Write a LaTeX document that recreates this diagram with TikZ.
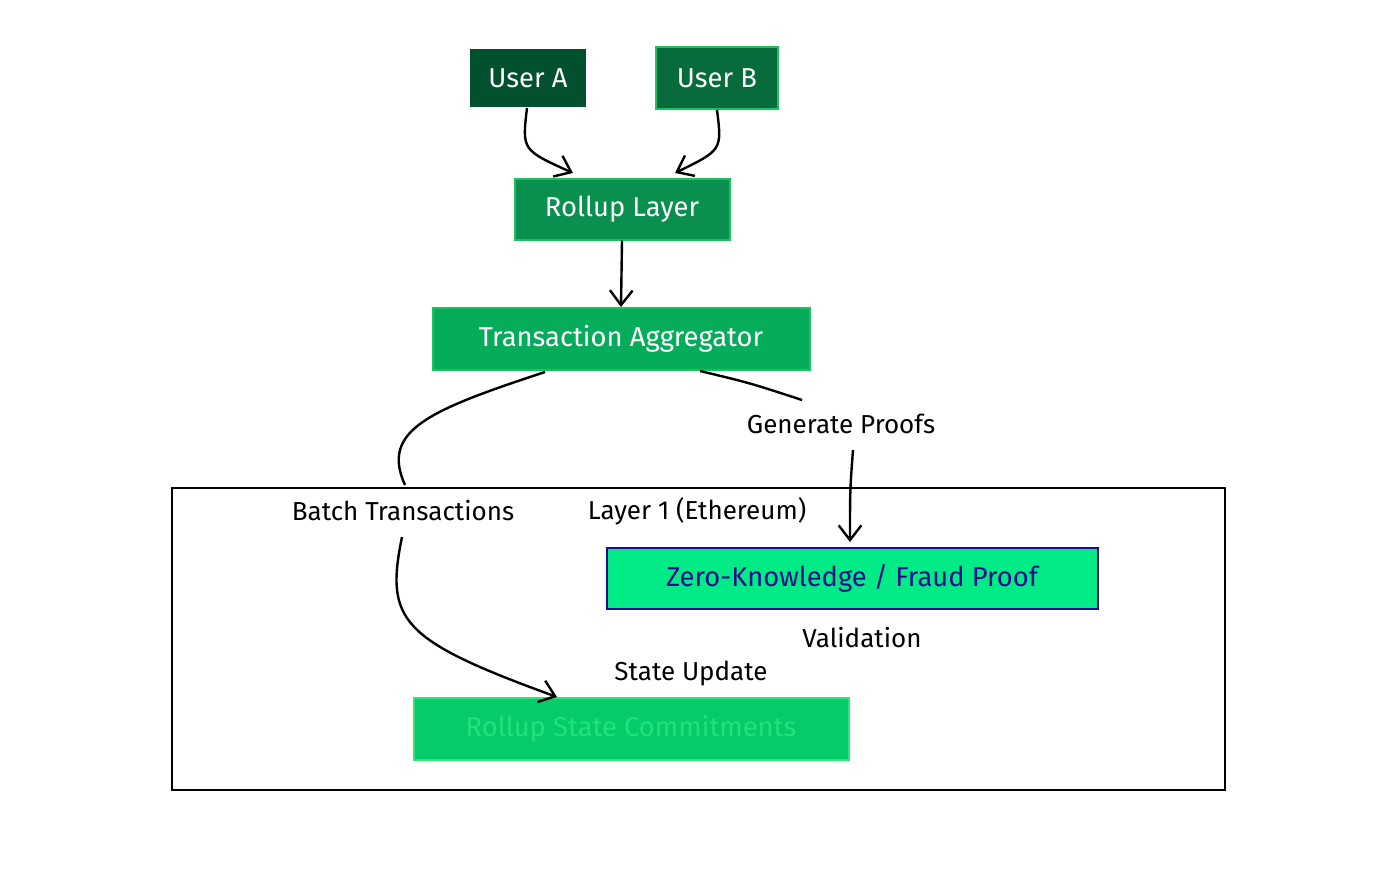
\documentclass[tikz,border=0pt]{standalone}
\usepackage{fontspec}
\setmainfont{Fira Sans}
\usetikzlibrary{arrows.meta}
\definecolor{ua}{HTML}{03502F}
\definecolor{ub}{HTML}{086B3C}
\definecolor{rl}{HTML}{0A8F4F}
\definecolor{ta}{HTML}{05AD5A}
\definecolor{zk}{HTML}{00EB85}
\definecolor{nv}{HTML}{1A0E8A}
\definecolor{rs}{HTML}{05CB6B}
\definecolor{rst}{HTML}{22E27A}
\definecolor{gb}{HTML}{1BC35E}
\definecolor{gb2}{HTML}{2EE77A}
\begin{document}
\begin{tikzpicture}[x=0.75pt,y=-0.75pt,
  box/.style={draw=gb,line width=1.5pt,text=white,font=\fontsize{20.5}{24}\selectfont,inner sep=0pt},
  lbl/.style={font=\fontsize{19.5}{23}\selectfont,text=black},
  arr/.style={line width=1.8pt,-{Straight Barb[length=11pt,width=17pt]}},
  ln/.style={line width=1.8pt}]
\useasboundingbox (0,0) rectangle (1400,878);
\node[draw=black,line width=1.4pt,minimum width=1053*0.75pt,minimum height=302*0.75pt,anchor=north west] (frame) at (171,487) {};
\node[box,fill=ua,draw=ua,minimum width=114*0.75pt,minimum height=56*0.75pt] (ua) at (528,78) {User A};
\node[box,fill=ub,minimum width=122*0.75pt,minimum height=62*0.75pt] (ub) at (717,78) {User B};
\node[box,fill=rl,minimum width=215*0.75pt,minimum height=61*0.75pt] (rl) at (622,209) {Rollup Layer};
\node[box,fill=ta,minimum width=377*0.75pt,minimum height=62*0.75pt] (ta) at (621,339) {Transaction Aggregator};
\node[box,fill=zk,draw=nv,text=nv,minimum width=491*0.75pt,minimum height=61*0.75pt] (zk) at (852,578) {Zero-Knowledge / Fraud Proof};
\node[box,fill=rs,draw=gb2,text=rst,minimum width=435*0.75pt,minimum height=62*0.75pt] (rs) at (631,729) {Rollup State Commitments};
\node[lbl] (bt) at (403,511) {Batch Transactions};
\node[lbl] (l1) at (697,511) {Layer 1 (Ethereum)};
\node[lbl] (gp) at (841,424) {Generate Proofs};
\node[lbl] (va) at (862,638) {Validation};
\node[lbl] (su) at (691,674) {State Update};
\coordinate (a1) at (527,108); \coordinate (a2) at (573,173);
\coordinate (b1) at (717,110); \coordinate (b2) at (675,173);
\coordinate (c1) at (545,372); \coordinate (c2) at (405,485);
\coordinate (d1) at (402,537); \coordinate (d2) at (557,697);
\coordinate (e1) at (700,371); \coordinate (e2) at (802,400);
\coordinate (f1) at (853,450); \coordinate (f2) at (850,542);
\draw[arr] (a1) .. controls (522,150) .. (a2);
\draw[arr] (b1) .. controls (722,150) .. (b2);
\draw[arr] (rl.south) -- (ta.north);
\draw[ln] (c1) .. controls (430,410) and (380,430) .. (c2);
\draw[arr] (d1) .. controls (385,620) and (400,640) .. (d2);
\draw[ln] (e1) .. controls (750,383) .. (e2);
\draw[arr] (f1) .. controls (850,490) .. (f2);
\end{tikzpicture}
\end{document}
